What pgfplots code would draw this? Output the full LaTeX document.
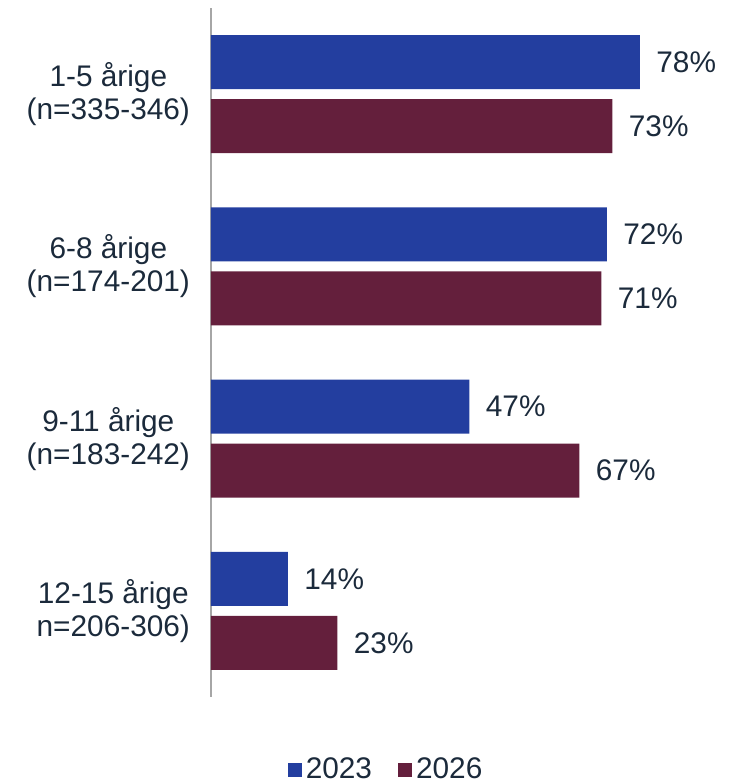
\documentclass[border=0pt]{standalone}
\usepackage{pgfplots}
\pgfplotsset{compat=1.18}
\usepackage{fontspec}
\setmainfont{Liberation Sans}
\definecolor{c23}{HTML}{233E9F}
\definecolor{c26}{HTML}{641F3C}
\definecolor{txt}{HTML}{1B2A3B}
\definecolor{axc}{HTML}{A6A6A6}
\begin{document}
\begin{tikzpicture}
\useasboundingbox (-105.5pt,-43.5pt) rectangle (264.5pt,348.5pt);
\begin{axis}[
  at={(0pt,0pt)}, anchor=south west,
  scale only axis, width=253pt, height=344.5pt,
  xbar, xmin=0, xmax=92,
  ymin=0.5, ymax=4.5, y dir=reverse,
  ytick={1,2,3,4},
  yticklabels={{1-5 årige\\(n=335-346)},{6-8 årige\\(n=174-201)},{9-11 årige\\(n=183-242)},{12-15 årige\\n=206-306)}},
  yticklabel style={align=center, font=\fontsize{14.9}{16.5}\selectfont, text=txt, xshift=-7pt},
  major tick length=0pt,
  xtick=\empty,
  hide x axis,
  axis y line*=left,
  y axis line style={draw=axc, line width=1pt, -},
  bar width=27pt,
  nodes near coords={\pgfmathprintnumber[assume math mode=true]{\pgfplotspointmeta}\%},
  nodes near coords style={font=\fontsize{14.9}{16.5}\selectfont, text=txt, anchor=west, inner sep=0pt, xshift=8pt},
  legend style={at={(0.348,-0.106)}, anchor=center, draw=none, fill=none, legend columns=2,
    font=\fontsize{14.9}{16.5}\selectfont, text=txt,
    /tikz/every even column/.append style={column sep=11pt}},
  clip=false,
]
\addplot[fill=c23, draw=none, bar shift=16pt,
  legend image code/.code={\fill[c23] (0pt,-3.5pt) rectangle (7pt,3.5pt);}]
  coordinates {(78,1) (72,2) (47,3) (14,4)};
\addplot[fill=c26, draw=none, bar shift=-16pt,
  legend image code/.code={\fill[c26] (0pt,-3.5pt) rectangle (7pt,3.5pt);}]
  coordinates {(73,1) (71,2) (67,3) (23,4)};
\legend{2023,2026}
\end{axis}
\end{tikzpicture}
\end{document}
